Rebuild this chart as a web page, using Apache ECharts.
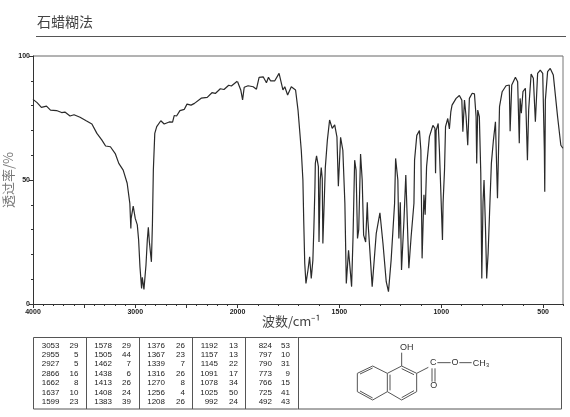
<!DOCTYPE html>
<html><head><meta charset="utf-8">
<style>html,body{margin:0;padding:0;background:#fff}#c{width:570px;height:417px}</style>
<script src="https://cdn.jsdelivr.net/npm/echarts@6/dist/echarts.min.js"></script>
</head><body><div id="c"></div>
<script>
const titleText = "石蜡糊法";
const yName = "透过率/%";
const xName = "波数/cm⁻¹";
const labelledTicks = [4000, 3000, 2000, 1500, 1000, 500];
const highWave = [4000,3960,3918,3868,3829,3770,3720,3688,3638,3599,3540,3480,3424,3375,3326,3290,3243,3194,3161,3118,3079,3053,3043,3040,3020,3007,3000,2980,2967,2954,2938,2931,2915,2895,2882,2872,2862,2842,2832,2823,2809,2790,2750,2717,2668,2635,2619,2596,2579,2563,2520,2494,2454,2421,2355,2296,2250,2217,2168,2132,2086,2060,2043,2003,2000];
const highT = [82.5,81.2,79.3,79.8,78.2,78,77.2,77.4,75.8,76.3,75.3,73.9,72.6,68.8,66.1,63.7,63.4,60.5,56.7,54,48.7,40.6,30.5,34.5,39.5,39.5,34.5,31.9,25.8,15,6.3,10.8,5.9,15.7,25.8,30.9,25.1,17,32.5,54,68.8,71.5,73.9,72.6,73.4,73.3,76,75.8,75,78,78.5,80.6,80.2,80.9,83,83.3,85.2,84.9,86.8,86.5,88.2,87.9,88.7,89.8,89.7];
const lowWave = [2000,1992,1984,1975,1967,1948,1923,1907,1894,1874,1858,1848,1838,1817,1796,1777,1768,1754,1736,1715,1703,1687,1679,1675,1670,1664,1654,1646,1638,1630,1625,1620,1618,1612,1603,1600,1594,1589,1584,1581,1569,1559,1548,1535,1523,1512,1505,1494,1483,1473,1466,1455,1450,1440,1433,1425,1418,1411,1405,1396,1388,1381,1371,1363,1360,1339,1319,1301,1286,1270,1259,1246,1229,1224,1213,1208,1201,1195,1183,1174,1159,1148,1134,1131,1120,1107,1100,1094,1085,1079,1072,1058,1041,1031,1028,1025,1015,1009,1004,994,991,984,979,968,960,953,947,927,911,899,894,886,878,870,862,848,837,829,826,821,813,806,801,795,790,783,777,770,763,754,744,734,724,714,701,682,666,662,654,636,625,617,613,607,599,587,577,571,559,548,538,527,514,502,494,492,489,478,465,450,429,413,403];
const lowT = [89.7,89.2,86.3,82.3,87.4,88,87.6,86.6,91.4,91.6,89.2,91.4,90,90,93,86.3,87.6,84.3,87.6,86.3,78.2,62,50,33.8,16.4,8.3,13.7,19,10.3,17.7,31,47,56.7,59.7,55.4,25,50,55,50.6,24.4,55,66,74.2,70.8,72.2,67.4,47.5,67.2,62,40.6,8.3,21.7,21.7,7,27,58,54,26.4,30,60.5,50,27.8,25,41,33.8,7,28.5,36.8,24.4,9,5,17.7,40.6,58.7,50,26.4,41,13.7,33.8,52,14.4,27,40.6,58,68,69.9,62,18.4,44,36,55.4,67.5,72,70.8,52.7,70,72.8,62,50,25.8,40.6,54,71.5,74.8,70.6,77.5,80.2,82.9,84.1,82.2,69.5,82.2,75.5,64,82.9,85,84.7,75.5,56.7,78.2,75.5,52.7,10.3,41,50,31,10.3,20.4,36.5,56.7,66,73.5,42.6,79.6,85.6,88,88.3,69.7,88.3,91.4,89.6,64.8,82.9,76.9,85.6,87,58,78.2,92.7,91,73.5,93,94.3,93,62,45.3,82.2,93.7,95,92.3,75.5,64,62.8];
const peakCols = [
  [[3053,29],[2955,5],[2927,5],[2866,16],[1662,8],[1637,10],[1599,23]],
  [[1578,29],[1505,44],[1462,7],[1438,6],[1413,26],[1408,24],[1383,39]],
  [[1376,26],[1367,23],[1339,7],[1316,26],[1270,8],[1256,4],[1208,26]],
  [[1192,13],[1157,13],[1145,22],[1091,17],[1078,34],[1025,50],[992,24]],
  [[824,53],[797,10],[790,31],[773,9],[766,15],[725,41],[492,43]]
];

const zip = (a, b) => a.map((v, i) => [v, b[i]]);
const AX = '#333', TXT = '#222';
const lab = {fontFamily:'Liberation Sans', fontSize:7, color:TXT, margin:5, fontWeight:'bold', hideOverlap:false, showMinLabel:true, showMaxLabel:true,
  formatter: v => labelledTicks.includes(v) ? String(v) : ''};

const g = [];
const line = (x1,y1,x2,y2,color='#444',w=1) => g.push({type:'line',silent:true,shape:{x1,y1,x2,y2},style:{stroke:color,lineWidth:w}});
const text = (x,y,t,o={}) => g.push({type:'text',silent:true,x,y,style:Object.assign({text:t,fill:TXT,fontFamily:'Liberation Sans',fontSize:8,textAlign:'left',textVerticalAlign:'middle'},o)});

// title rule and frame
line(36,36.5,566,36.5,'#555',1);
line(33,56,563,56,'#666',1);
line(563,56,563,304,'#777',1);
text(262,321,xName,{fontFamily:'Noto Sans CJK SC',fontSize:13,fill:'#444'});

// peak table
g.push({type:'rect',silent:true,shape:{x:33.5,y:337.5,width:528,height:71.5},style:{fill:'none',stroke:'#555',lineWidth:1}});
[86.5,139.5,192.5,245.5,298.5].forEach(x=>line(x,337.5,x,409,'#555',1));
const colX = [[59.5,78.5],[112,131],[165,185],[218,238],[272,290]];
peakCols.forEach((col,ci)=>col.forEach((r,ri)=>{
  const y = 345.3 + ri*9.45;
  text(colX[ci][0],y,String(r[0]),{textAlign:'right'});
  text(colX[ci][1],y,String(r[1]),{textAlign:'right'});
}));

// molecule
const mx = z => 300+z/3, my = z => 330+z/3;
const b = (a,c,d,e) => line(mx(a),my(c),mx(d),my(e),'#555',1);
[[172,130,218,108],[218,108,262,130],[262,130,262,185],[262,185,218,210],[218,210,172,185],[172,185,172,130],
 [262,130,305,108],[305,108,350,130],[350,130,350,185],[350,185,305,210],[305,210,262,185],
 [305,108,305,68],[350,130,385,112],[396,115,396,155],[405,115,405,155],[412,98,452,98],[478,98,515,98],
 [180,132,218,114],[180,183,218,204],[270,134,270,181],[305,116,342,134],[342,182,305,203]].forEach(s=>b(...s));
[['OH',320,53],['C',400,99],['O',465,99],['O',401,168],['CH₃',543,100]].forEach(t=>text(mx(t[1]),my(t[2]),t[0],{fontSize:9,textAlign:'center',fill:'#333'}));

const option = {
  animation:false,
  backgroundColor:'#fff',
  title:{text:titleText,left:37,top:15,padding:0,textStyle:{fontFamily:'Noto Sans CJK SC',fontSize:14,fontWeight:'normal',color:'#444'}},
  grid:[
    {left:33,top:56,width:204.5,height:248},
    {left:237.5,top:56,width:326,height:248},
    {left:237.5,top:56,width:326,height:248}
  ],
  xAxis:[
    {gridIndex:0,type:'value',inverse:true,min:2000,max:4000,interval:500,splitLine:{show:false},
     axisLine:{onZero:false,lineStyle:{color:AX}},axisTick:{length:4,lineStyle:{color:AX}},
     minorTick:{show:true,splitNumber:5,length:2,lineStyle:{color:AX}},axisLabel:lab},
    {gridIndex:1,type:'value',inverse:true,min:400,max:2000,interval:100,splitLine:{show:false},
     axisLine:{onZero:false,lineStyle:{color:AX}},axisTick:{length:2,lineStyle:{color:AX}},
     axisLabel:Object.assign({},lab,{formatter:v=>(v!==2000&&labelledTicks.includes(v))?String(v):''})},
    {gridIndex:2,type:'value',inverse:true,min:400,max:2000,splitLine:{show:false},axisLine:{show:false},
     axisTick:{length:4,lineStyle:{color:AX},customValues:[500,1000,1500]},axisLabel:{show:false}}
  ],
  yAxis:[
    {gridIndex:0,type:'value',min:0,max:100,interval:50,splitLine:{show:false},
     name:yName,nameLocation:'middle',nameGap:16,nameTextStyle:{fontFamily:'Noto Sans CJK SC',fontSize:13,color:'#777'},
     axisLine:{onZero:false,lineStyle:{color:AX}},axisTick:{length:4,lineStyle:{color:AX}},
     minorTick:{show:true,splitNumber:5,length:2,lineStyle:{color:AX}},
     axisLabel:{fontFamily:'Liberation Sans',fontSize:7,fontWeight:'bold',color:TXT,margin:3}},
    {gridIndex:1,type:'value',min:0,max:100,show:false},
    {gridIndex:2,type:'value',min:0,max:100,show:false}
  ],
  series:[
    {type:'line',xAxisIndex:0,yAxisIndex:0,data:zip(highWave,highT),showSymbol:false,lineStyle:{color:'#2a2a2a',width:1.2}},
    {type:'line',xAxisIndex:1,yAxisIndex:1,data:zip(lowWave,lowT),showSymbol:false,lineStyle:{color:'#2a2a2a',width:1.2}}
  ],
  graphic:g
};
echarts.init(document.getElementById('c'),null,{renderer:'canvas'}).setOption(option);
</script>
</body></html>
